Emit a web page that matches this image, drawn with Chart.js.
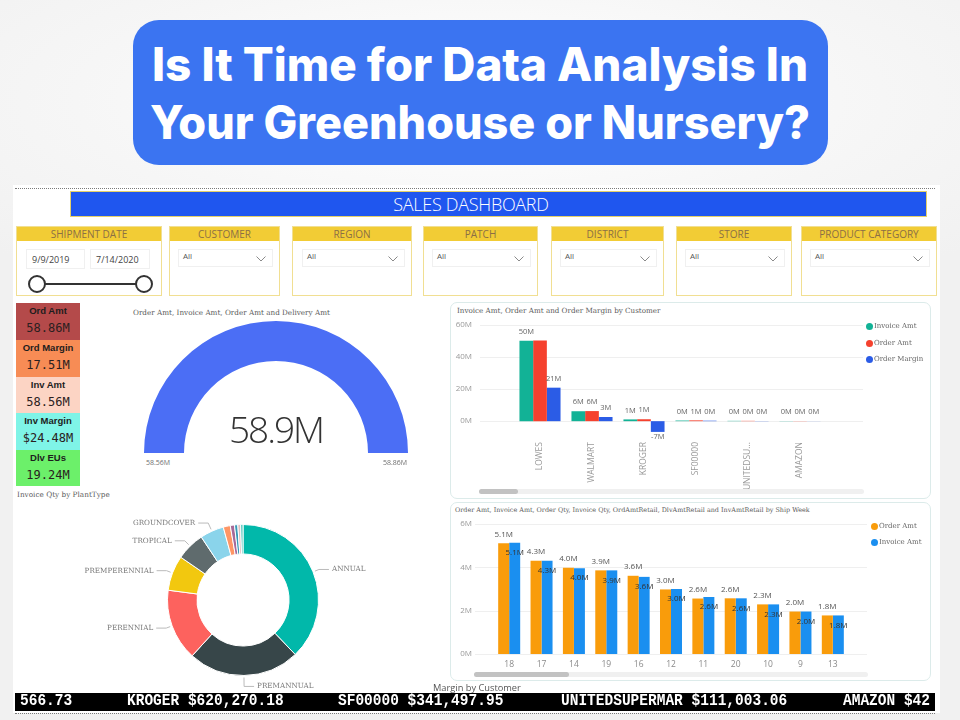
<!DOCTYPE html>
<html><head><meta charset="utf-8">
<script src="https://cdn.jsdelivr.net/npm/chart.js@4.4.1/dist/chart.umd.min.js"></script>
<style>
html,body{margin:0;padding:0;}
body{width:960px;height:720px;position:relative;overflow:hidden;
  background:radial-gradient(ellipse 70% 30% at 50% 14%, #ffffff 0%, #f6f6f6 60%, #f1f1f1 100%);
  font-family:"Open Sans",sans-serif;}
.abs{position:absolute;}
#dash{left:13px;top:185px;width:927px;height:528px;background:#fff;}
.dots{position:absolute;left:15px;width:920px;height:0;border-top:1px dotted #7a7a7a;}
#banner{left:70px;top:191px;width:855px;height:24px;background:#1f56ef;border:1.5px solid #e4d06a;}
#banner span{position:absolute;left:0;width:800px;top:0;text-align:center;color:#fff;
  font:300 18px "Open Sans",sans-serif;line-height:24px;letter-spacing:-0.3px;}
.fbox{position:absolute;top:226px;height:70px;border:1px solid #f1df92;background:#fff;box-sizing:border-box;}
.fhead{position:absolute;left:0;top:0;right:0;height:14px;background:#f2cc35;color:#8b6f45;
  font:400 10px "Open Sans",sans-serif;text-align:center;line-height:14px;white-space:nowrap;}
.dd{position:absolute;top:22px;height:18px;border:1px solid #f0f0f0;box-sizing:border-box;}
.dd span{position:absolute;left:4px;top:0;line-height:17px;font:400 8px "Open Sans",sans-serif;color:#555;}
.dd svg{position:absolute;right:6px;top:6px;}
.datebox{position:absolute;top:22px;height:20px;border:1px solid #f0f0f0;box-sizing:border-box;
  font:400 9px "Open Sans",sans-serif;color:#444;line-height:19px;padding-left:5px;}
.kpi{position:absolute;left:16px;width:64px;height:37px;text-align:center;}
.kl{position:absolute;left:0;right:0;top:2px;font:700 9.5px "Liberation Sans",Arial,sans-serif;color:#1d1d1d;line-height:12px;}
.kv{position:absolute;left:0;right:0;top:18px;font:400 12px "DejaVu Sans Mono",monospace;color:#2a2020;line-height:14px;}
.ttl{position:absolute;font-family:"DejaVu Serif",serif;color:#5a5a5a;white-space:nowrap;line-height:10px;}
.panel{position:absolute;border:1px solid #dcebea;border-radius:7px;box-sizing:border-box;background:#fff;}
.leg{position:absolute;font:400 7px "DejaVu Serif",serif;color:#666;white-space:nowrap;line-height:9px;}
.leg i{position:absolute;left:-8px;top:1px;width:7px;height:7px;border-radius:50%;}
.track{position:absolute;height:5px;background:#f0f0f0;border-radius:3px;}
.thumb{position:absolute;left:0;top:0;height:5px;background:#c2c2c2;border-radius:3px;}
#ticker{left:15px;top:693px;width:920px;height:18px;background:#000;overflow:hidden;}
#ticker span{position:absolute;top:0;line-height:18px;color:#fff;font:700 14.5px "Liberation Mono",monospace;white-space:pre;
  transform:scaleY(1.12);transform-origin:50% 50%;}
.glab{position:absolute;top:458px;font:400 7px "Open Sans",sans-serif;color:#707070;}
canvas{position:absolute;}
</style></head>
<body>
<svg class="abs" style="left:0;top:0" width="960" height="185">
  <rect x="133" y="20" width="695" height="145" rx="26" fill="#3b74f1"/>
  <text x="480" y="81" text-anchor="middle" textLength="656" lengthAdjust="spacingAndGlyphs" font-family="Inter" font-weight="800" font-size="46" fill="#fff">Is It Time for Data Analysis In</text>
  <text x="480" y="139" text-anchor="middle" textLength="660" lengthAdjust="spacingAndGlyphs" font-family="Inter" font-weight="800" font-size="46" fill="#fff">Your Greenhouse or Nursery?</text>
</svg>

<div id="dash" class="abs"></div>
<div class="dots" style="top:188px"></div>
<div class="dots" style="top:713px"></div>
<div id="banner" class="abs"><span>SALES DASHBOARD</span></div>

<!-- filters -->
<div class="fbox" style="left:16px;width:146px">
  <div class="fhead">SHIPMENT DATE</div>
  <div class="datebox" style="left:9px;width:59px">9/9/2019</div>
  <div class="datebox" style="left:73px;width:60px">7/14/2020</div>
  <svg style="position:absolute;left:0;top:0" width="146" height="70">
    <line x1="20" y1="57" x2="127" y2="57" stroke="#333" stroke-width="2"/>
    <circle cx="20" cy="57" r="8" fill="#fff" stroke="#333" stroke-width="2"/>
    <circle cx="127" cy="57" r="8" fill="#fff" stroke="#333" stroke-width="2"/>
  </svg>
</div>
<div class="fbox" style="left:169px;width:111px"><div class="fhead">CUSTOMER</div><div class="dd" style="left:8px;width:95px"><span>All</span><svg width="10" height="6"><polyline points="0.5,0.5 5,5 9.5,0.5" fill="none" stroke="#8a8a8a" stroke-width="1"/></svg></div></div>
<div class="fbox" style="left:292px;width:120px"><div class="fhead">REGION</div><div class="dd" style="left:9px;width:103px"><span>All</span><svg width="10" height="6"><polyline points="0.5,0.5 5,5 9.5,0.5" fill="none" stroke="#8a8a8a" stroke-width="1"/></svg></div></div>
<div class="fbox" style="left:423px;width:115px"><div class="fhead">PATCH</div><div class="dd" style="left:8px;width:99px"><span>All</span><svg width="10" height="6"><polyline points="0.5,0.5 5,5 9.5,0.5" fill="none" stroke="#8a8a8a" stroke-width="1"/></svg></div></div>
<div class="fbox" style="left:551px;width:113px"><div class="fhead">DISTRICT</div><div class="dd" style="left:8px;width:97px"><span>All</span><svg width="10" height="6"><polyline points="0.5,0.5 5,5 9.5,0.5" fill="none" stroke="#8a8a8a" stroke-width="1"/></svg></div></div>
<div class="fbox" style="left:676px;width:116px"><div class="fhead">STORE</div><div class="dd" style="left:8px;width:100px"><span>All</span><svg width="10" height="6"><polyline points="0.5,0.5 5,5 9.5,0.5" fill="none" stroke="#8a8a8a" stroke-width="1"/></svg></div></div>
<div class="fbox" style="left:801px;width:136px"><div class="fhead">PRODUCT CATEGORY</div><div class="dd" style="left:8px;width:120px"><span>All</span><svg width="10" height="6"><polyline points="0.5,0.5 5,5 9.5,0.5" fill="none" stroke="#8a8a8a" stroke-width="1"/></svg></div></div>

<!-- KPI cards -->
<div class="kpi" style="top:303px;background:#b44a4a"><div class="kl">Ord Amt</div><div class="kv">58.86M</div></div>
<div class="kpi" style="top:340px;background:#f78c55"><div class="kl">Ord Margin</div><div class="kv">17.51M</div></div>
<div class="kpi" style="top:377px;background:#fcd4c4"><div class="kl">Inv Amt</div><div class="kv">58.56M</div></div>
<div class="kpi" style="top:413px;background:#7ff4e7"><div class="kl">Inv Margin</div><div class="kv">$24.48M</div></div>
<div class="kpi" style="top:450px;height:36px;background:#6cf06a"><div class="kl">Dlv EUs</div><div class="kv">19.24M</div></div>

<div class="ttl" style="left:133px;top:308px;font-size:7.5px" data-fit="197">Order Amt, Invoice Amt, Order Amt and Delivery Amt</div>
<div class="ttl" style="left:17px;top:490px;font-size:7.5px" data-fit="93">Invoice Qty by PlantType</div>

<!-- gauge -->
<canvas id="gauge" width="264" height="132" style="left:144px;top:321px"></canvas>
<div class="glab" style="left:146px">58.56M</div>
<div class="glab" style="left:383px">58.86M</div>
<div id="gval" class="abs" style="left:176px;width:200px;top:404px;text-align:center;font:300 37px 'Open Sans',sans-serif;color:#333;letter-spacing:-2px;line-height:50px">58.9M</div>

<!-- donut -->
<canvas id="donut" width="380" height="190" style="left:60px;top:505px"></canvas>

<!-- top right panel -->
<div class="panel" style="left:450px;top:302px;width:481px;height:197px"></div>
<div class="ttl" style="left:457px;top:306px;font-size:7.5px" data-fit="204">Invoice Amt, Order Amt and Order Margin by Customer</div>
<canvas id="custChart" width="475" height="180" style="left:455px;top:318px"></canvas>
<div class="leg" style="left:874px;top:322px"><i style="background:#12b296"></i>Invoice Amt</div>
<div class="leg" style="left:874px;top:339px"><i style="background:#f5412e"></i>Order Amt</div>
<div class="leg" style="left:874px;top:355px"><i style="background:#2b5ce6"></i>Order Margin</div>
<div class="track" style="left:479px;top:489px;width:385px"><div class="thumb" style="width:39px"></div></div>

<!-- bottom right panel -->
<div class="panel" style="left:450px;top:502px;width:481px;height:179px"></div>
<div class="ttl" style="left:455px;top:505px;font-size:6.5px" data-fit="355">Order Amt, Invoice Amt, Order Qty, Invoice Qty, OrdAmtRetail, DlvAmtRetail and InvAmtRetail by Ship Week</div>
<canvas id="weekChart" width="475" height="163" style="left:455px;top:517px"></canvas>
<div class="leg" style="left:879px;top:522px"><i style="background:#f99c0b"></i>Order Amt</div>
<div class="leg" style="left:879px;top:538px"><i style="background:#1a8ff0"></i>Invoice Amt</div>
<div class="track" style="left:474px;top:672px;width:394px"><div class="thumb" style="width:95px"></div></div>

<div class="abs" style="left:433px;top:681px;font:400 8px 'Open Sans',sans-serif;color:#555;white-space:nowrap" data-fit="88">Margin by Customer</div>

<div id="ticker" class="abs">
  <span style="left:5px">566.73</span>
  <span style="left:112px">KROGER $620,270.18</span>
  <span style="left:323px">SF00000 $341,497.95</span>
  <span style="left:546px">UNITEDSUPERMAR $111,003.06</span>
  <span style="left:828px">AMAZON $42</span>
</div>

<script>
// ---------------- DATA ----------------
const gaugeMin = 58.56;
const gaugeMax = 58.86;
const gaugeValue = 58.86;

const plantTypes = ['ANNUAL','PREMANNUAL','PERENNIAL','PREMPERENNIAL','TROPICAL','GROUNDCOVER','SHRUB','HERB','VEGETABLE','SUCCULENT','OTHER'];
const plantInvoiceQty = [37.8, 23.9, 15.3, 7.5, 6.1, 5.1, 1.5, 0.9, 0.7, 0.6, 0.5];
const plantColors = ['#01b8aa','#374649','#fd625e','#f2c80f','#5f6b6d','#8ad4eb','#fe9666','#a66999','#3599b8','#dfbfbf','#4ac5bb'];

const customers = ['LOWES','WALMART','KROGER','SF00000','UNITEDSU...','AMAZON'];
const custInvoiceAmt  = [50.1, 6.2, 1.1, 0.4, 0.2, 0.1];
const custOrderAmt    = [50.3, 6.3, 1.2, 0.5, 0.2, 0.1];
const custOrderMargin = [20.9, 2.6, -6.7, 0.3, 0.1, 0.05];
const custYTicks = [0, 20, 40, 60];

const weeks = ['18','17','14','19','16','12','11','20','10','9','13'];
const weekOrderAmt   = [5.11, 4.30, 3.98, 3.86, 3.61, 2.98, 2.56, 2.57, 2.29, 1.96, 1.78];
const weekInvoiceAmt = [5.14, 4.30, 3.96, 3.86, 3.56, 3.00, 2.63, 2.57, 2.29, 1.96, 1.78];
const weekYTicks = [0, 2, 4, 6];

// ---------------- fit helpers ----------------
document.querySelectorAll('[data-fit]').forEach(el => {
  const target = parseFloat(el.dataset.fit);
  const fs = parseFloat(getComputedStyle(el).fontSize);
  el.style.display = 'inline-block';
  const w = el.getBoundingClientRect().width;
  if (w > 0) el.style.fontSize = (fs * target / w) + 'px';
});

// ---------------- Chart.js ----------------
Chart.defaults.animation = false;
Chart.defaults.responsive = false;
Chart.defaults.font.family = '"Open Sans", sans-serif';
Chart.defaults.plugins.legend.display = false;
Chart.defaults.plugins.tooltip.enabled = false;

const extGrid = {
  id: 'extGrid',
  beforeDatasetsDraw(chart, args, opts) {
    const {ctx, chartArea, scales: {y}} = chart;
    ctx.save();
    ctx.strokeStyle = opts.color; ctx.lineWidth = 1;
    y.ticks.forEach((t, i) => {
      const py = Math.round(y.getPixelForTick(i)) + 0.5;
      ctx.beginPath();
      ctx.moveTo(chartArea.left - opts.left, py);
      ctx.lineTo(chartArea.right + opts.right, py);
      ctx.stroke();
    });
    ctx.restore();
  }
};

const barLabels = {
  id: 'barLabels',
  afterDatasetsDraw(chart, args, opts) {
    const {ctx} = chart;
    ctx.save();
    ctx.font = opts.font;
    ctx.textAlign = 'center'; ctx.textBaseline = 'middle';
    const drawn = [];
    const n = chart.data.labels.length;
    for (let i = 0; i < n; i++) {
      chart.data.datasets.forEach((ds, d) => {
        const el = chart.getDatasetMeta(d).data[i];
        const v = ds.data[i];
        const txt = opts.fmt(v);
        const y = v < 0 ? el.y + opts.below : el.y + opts.offsets[d];
        const x = el.x;
        const w = ctx.measureText(txt).width;
        const box = {l: x - w/2, r: x + w/2, t: y - 4, b: y + 4};
        if (opts.avoid && drawn.some(b => b.l < box.r && box.l < b.r && b.t < box.b && box.t < b.b)) return;
        drawn.push(box);
        ctx.fillStyle = opts.colors[d];
        ctx.fillText(txt, x, y);
      });
    }
    ctx.restore();
  }
};

const donutLabels = {
  id: 'donutLabels',
  afterDatasetsDraw(chart, args, opts) {
    const {ctx} = chart;
    const meta = chart.getDatasetMeta(0);
    const data = chart.data.datasets[0].data;
    const total = data.reduce((a, b) => a + b, 0);
    ctx.save();
    ctx.font = opts.font; ctx.fillStyle = opts.color; ctx.strokeStyle = opts.lineColor;
    ctx.lineWidth = 1; ctx.textBaseline = 'middle';
    meta.data.forEach((arc, i) => {
      if (data[i] / total < opts.minShare) return;
      const mid = (arc.startAngle + arc.endAngle) / 2;
      const c = Math.cos(mid), s = Math.sin(mid);
      const r = arc.outerRadius;
      const e = 6 + 5 * (1 - Math.abs(c));
      const x1 = arc.x + c * (r + 2), y1 = arc.y + s * (r + 2);
      const x2 = arc.x + c * (r + e), y2 = arc.y + s * (r + e);
      const dir = c >= 0 ? 1 : -1;
      const x3 = x2 + dir * 10;
      ctx.beginPath(); ctx.moveTo(x1, y1); ctx.lineTo(x2, y2); ctx.lineTo(x3, y2); ctx.stroke();
      ctx.textAlign = dir > 0 ? 'left' : 'right';
      ctx.fillText(chart.data.labels[i], x3 + dir * 3, y2);
    });
    ctx.restore();
  }
};

// gauge
new Chart(document.getElementById('gauge'), {
  type: 'doughnut',
  data: {labels: ['Value', 'Remaining'], datasets: [{
    data: [gaugeValue - gaugeMin, gaugeMax - gaugeValue],
    backgroundColor: ['#4b6ef5', '#e8e8e8'], borderWidth: 0
  }]},
  options: {rotation: -90, circumference: 180, cutout: '69.7%', layout: {padding: 0}}
});

// donut
new Chart(document.getElementById('donut'), {
  type: 'doughnut',
  data: {labels: plantTypes, datasets: [{data: plantInvoiceQty, backgroundColor: plantColors, borderColor: '#fff', borderWidth: 1}]},
  options: {
    cutout: '61%',
    layout: {padding: {left: 107, right: 121, top: 19, bottom: 19}},
    plugins: {donutLabels: {font: '7.2px "DejaVu Serif", serif', color: '#777', lineColor: '#bbb', minShare: 0.03}}
  },
  plugins: [donutLabels]
});

// customer chart
new Chart(document.getElementById('custChart'), {
  type: 'bar',
  data: {labels: customers, datasets: [
    {label: 'Invoice Amt', data: custInvoiceAmt, backgroundColor: '#12b296'},
    {label: 'Order Amt', data: custOrderAmt, backgroundColor: '#f5412e'},
    {label: 'Order Margin', data: custOrderMargin, backgroundColor: '#2b5ce6'}
  ]},
  options: {
    layout: {padding: {left: 0, right: 104, top: 7, bottom: 0}},
    datasets: {bar: {categoryPercentage: 0.79, barPercentage: 1}},
    scales: {
      x: {grid: {display: false, drawTicks: false}, border: {display: false},
          ticks: {autoSkip: false, minRotation: 90, maxRotation: 90, padding: 8, color: '#9a9a9a', font: {size: 8.5}},
          afterFit(s) { s.height = 64; }},
      y: {min: -8, max: 60, grid: {display: false, drawTicks: false}, border: {display: false},
          afterBuildTicks(s) { s.ticks = custYTicks.map(v => ({value: v})); },
          ticks: {padding: 42, color: '#9a9a9a', font: {size: 8}, callback: v => v + 'M'},
          afterFit(s) { s.width = 59; s.paddingTop = 4; s.paddingBottom = 4; }}
    },
    plugins: {
      extGrid: {left: 34, right: 37, color: '#efefef'},
      barLabels: {font: '7.5px "Open Sans", sans-serif', colors: ['#666', '#666', '#666'], offsets: [-9, -9, -9], below: 5,
                  avoid: true, fmt: v => Math.round(v) + 'M'}
    }
  },
  plugins: [extGrid, barLabels]
});

// week chart
new Chart(document.getElementById('weekChart'), {
  type: 'bar',
  data: {labels: weeks, datasets: [
    {label: 'Order Amt', data: weekOrderAmt, backgroundColor: '#f99c0b'},
    {label: 'Invoice Amt', data: weekInvoiceAmt, backgroundColor: '#1a8ff0'}
  ]},
  options: {
    layout: {padding: {left: 0, right: 81, top: 7, bottom: 0}},
    datasets: {bar: {categoryPercentage: 0.68, barPercentage: 1}},
    scales: {
      x: {grid: {display: false, drawTicks: false}, border: {display: false},
          ticks: {autoSkip: false, maxRotation: 0, padding: 5, color: '#8a8a8a', font: {size: 8.5}},
          afterFit(s) { s.height = 26; }},
      y: {min: 0, max: 6, grid: {display: false, drawTicks: false}, border: {display: false},
          afterBuildTicks(s) { s.ticks = weekYTicks.map(v => ({value: v})); },
          ticks: {padding: 21, color: '#9a9a9a', font: {size: 8}, callback: v => v + 'M'},
          afterFit(s) { s.width = 38; s.paddingTop = 4; s.paddingBottom = 4; }}
    },
    plugins: {
      extGrid: {left: 18, right: 18, color: '#efefef'},
      barLabels: {font: '8px "Open Sans", sans-serif', colors: ['#555', '#333'], offsets: [-9, 10], below: 5,
                  avoid: false, fmt: v => v.toFixed(1) + 'M'}
    }
  },
  plugins: [extGrid, barLabels]
});
</script>
</body></html>
